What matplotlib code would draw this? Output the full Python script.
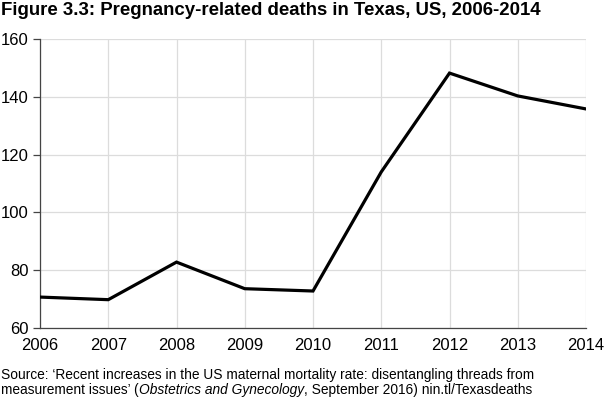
import matplotlib
matplotlib.use('Agg')
import matplotlib.pyplot as plt

# Data
years = [2006, 2007, 2008, 2009, 2010, 2011, 2012, 2013, 2014]
deaths = [70.7, 69.8, 82.8, 73.6, 72.8, 114.0, 148.2, 140.3, 135.8]
y_ticks = [60, 80, 100, 120, 140, 160]

title = 'Figure 3.3: Pregnancy-related deaths in Texas, US, 2006-2014'
source_line1 = 'Source: \u2018Recent increases in the US maternal mortality rate: disentangling threads from'
source_parts2 = [('measurement issues\u2019 (', 'normal'),
                 ('Obstetrics and Gynecology', 'italic'),
                 (', September 2016) nin.tl/Texasdeaths', 'normal')]

plt.rcParams['font.family'] = ['Liberation Sans', 'DejaVu Sans']

W, H = 604, 401
fig = plt.figure(figsize=(W / 100, H / 100), dpi=100)
ax = fig.add_axes([40 / W, 1 - 328 / H, (586 - 40) / W, (328 - 39) / H])

ax.plot(years, deaths, color='black', linewidth=2.3, solid_joinstyle='miter', zorder=3)

ax.set_xlim(years[0], years[-1])
ax.set_ylim(60, 160)
ax.set_xticks(years)
ax.set_yticks(y_ticks)
ax.grid(True, color='#dcdcdc', linewidth=0.9)
ax.set_axisbelow(True)

for s in ['top', 'right']:
    ax.spines[s].set_visible(False)
for s in ['left', 'bottom']:
    ax.spines[s].set_color('#444444')
    ax.spines[s].set_linewidth(0.9)

ax.tick_params(axis='y', length=5, width=0.9, color='#444444', labelsize=12, pad=3)
ax.tick_params(axis='x', length=0, labelsize=12, pad=7)

fig.text(1 / W, 1 - 2 / H, title, fontsize=13.4, fontweight='bold', va='top', ha='left')

fig.text(1 / W, 1 - 368 / H, source_line1, fontsize=9.9, va='top', ha='left')

fig.canvas.draw()
renderer = fig.canvas.get_renderer()
x = 1
for txt, style in source_parts2:
    t = fig.text(x / W, 1 - 383 / H, txt, fontsize=9.9, style=style, va='top', ha='left')
    bb = t.get_window_extent(renderer=renderer)
    x = bb.x1

fig.savefig('out.png', dpi=100)
